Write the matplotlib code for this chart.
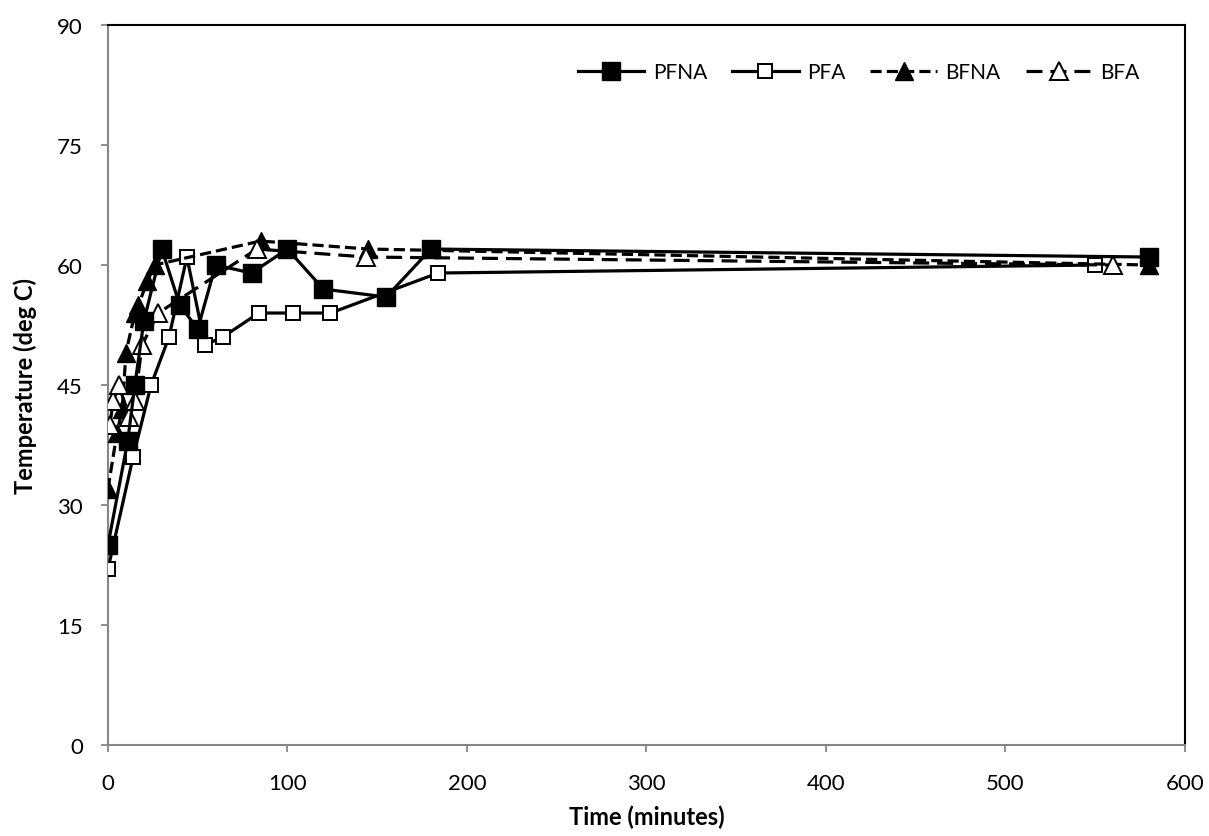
import matplotlib.pyplot as plt

plt.rcParams['font.family'] = ['Lato', 'DejaVu Sans']

# data
pfna_t = [0, 11, 15, 20, 30, 40, 50, 60, 80, 100, 120, 155, 180, 580]
pfna_T = [25, 38, 45, 53, 62, 55, 52, 60, 59, 62, 57, 56, 62, 61]

pfa_t = [0, 14, 24, 34, 44, 54, 64, 84, 103, 124, 184, 550]
pfa_T = [22, 36, 45, 51, 61, 50, 51, 54, 54, 54, 59, 60]

bfna_t = [0, 5, 8, 10, 15, 17, 22, 26, 85, 145, 580]
bfna_T = [32, 39, 42, 49, 54, 55, 58, 60, 63, 62, 60]

bfa_t = [1, 3, 6, 12, 15, 19, 28, 83, 144, 560]
bfa_T = [40, 43, 45, 41, 43, 50, 54, 62, 61, 60]

fig = plt.figure(figsize=(12.09, 8.37), dpi=100)
ax = fig.add_axes([0.0893, 0.1087, 0.8906, 0.8602])

ax.plot(pfna_t, pfna_T, color='black', lw=2.3, marker='s', ms=13,
        mfc='black', mec='black', label='PFNA', zorder=4)
ax.plot(pfa_t, pfa_T, color='black', lw=2.3, marker='s', ms=10,
        mfc='white', mec='black', mew=1.4, label='PFA', zorder=3)
ax.plot(bfna_t, bfna_T, color='black', lw=2.3, ls=(0, (3.5, 1.6)), marker='^', ms=13,
        mfc='black', mec='black', label='BFNA', zorder=3)
ax.plot(bfa_t, bfa_T, color='black', lw=2.3, ls=(0, (5, 2.5)), marker='^', ms=13,
        mfc='white', mec='black', mew=1.4, label='BFA', zorder=3)

ax.set_xlim(0, 600)
ax.set_ylim(0, 90)
ax.set_xticks(range(0, 601, 100))
ax.set_yticks(range(0, 91, 15))
ax.tick_params(labelsize=16, length=5, width=1.3, direction='out', color='#868686')
ax.tick_params(axis='y', pad=13)
ax.tick_params(axis='x', pad=15)
for side in ['left', 'bottom']:
    ax.spines[side].set_color('#868686')
    ax.spines[side].set_linewidth(1.5)
for side in ['top', 'right']:
    ax.spines[side].set_color('black')
    ax.spines[side].set_linewidth(1.5)

ax.set_xlabel('Time (minutes)', fontsize=17, fontweight='bold', va='top')
ax.set_ylabel('Temperature (deg C)', fontsize=17, fontweight='bold')
ax.xaxis.set_label_coords(0.5, -0.082)
ax.yaxis.set_label_coords(-0.066, 0.5)

ax.legend(loc='center right', ncol=4, frameon=False, fontsize=15,
          handlelength=3.2, columnspacing=1.2, handletextpad=0.4,
          borderaxespad=0, bbox_to_anchor=(0.966, 0.935))

plt.savefig('out.png')
plt.close()
